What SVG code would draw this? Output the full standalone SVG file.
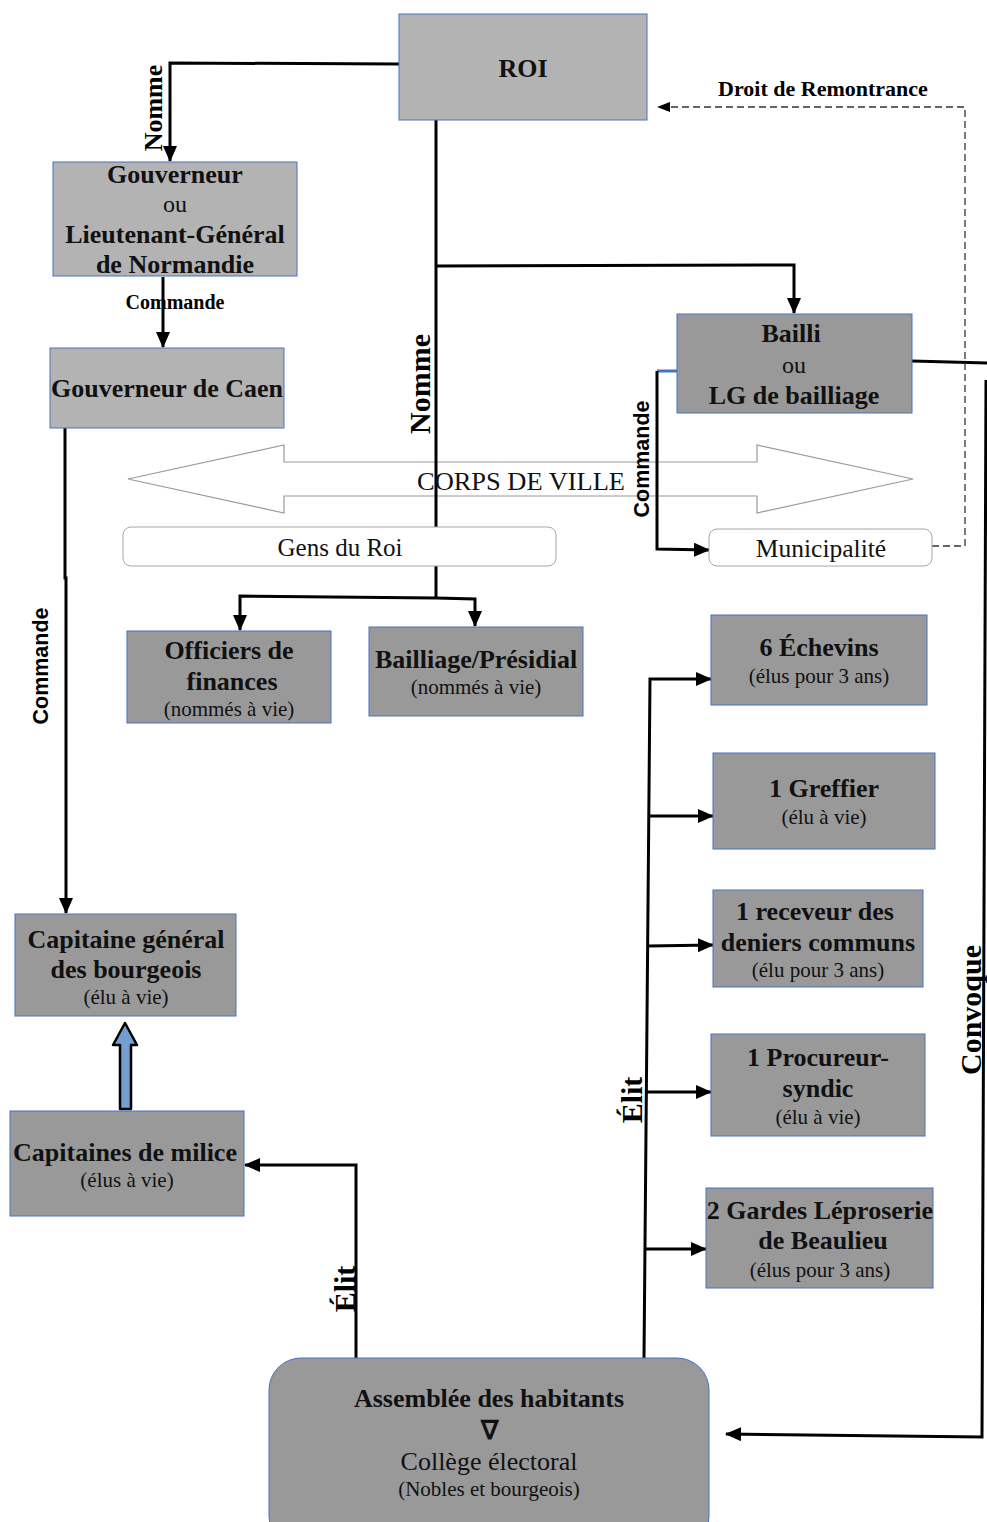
<svg xmlns="http://www.w3.org/2000/svg" width="987" height="1522" viewBox="0 0 987 1522">
<defs>
<style>
.n1{fill:#b3b3b3;stroke:#4472c4;stroke-width:1}
.n2{fill:#999999;stroke:#4472c4;stroke-width:1}
.w{fill:#ffffff;stroke:#a6a6a6;stroke-width:1}
.t{font-family:"Liberation Serif",serif;fill:#111;text-anchor:middle}
.b{font-weight:bold;font-size:26px}
.r{font-size:24px}
.s{font-size:21px}
.ln{fill:none;stroke:#000;stroke-width:3}
.dl{fill:none;stroke:#333;stroke-width:1.3;stroke-dasharray:7,4}
.lb{font-family:"Liberation Serif",serif;font-weight:bold;fill:#000;text-anchor:middle}
.ls{font-family:"Liberation Sans",sans-serif;font-weight:bold;fill:#000;text-anchor:middle}
</style>
<marker id="arb" markerWidth="16" markerHeight="14" refX="15" refY="7" orient="auto" markerUnits="userSpaceOnUse" viewBox="0 0 16 14"><path d="M0,0 L16,7 L0,14 Z" fill="#000"/></marker>
</defs>
<rect width="987" height="1522" fill="#ffffff"/>

<g id="corps">
<path d="M128,479 L284,445 L284,462 L757,462 L757,445 L913,479 L757,513 L757,496 L284,496 L284,513 Z" fill="#ffffff" stroke="#9a9a9a" stroke-width="1.2"/>
</g>

<g id="connectors">
<path class="ln" d="M399,64 L170,63 L170,161" marker-end="url(#arb)"/>
<path class="ln" d="M163,277 L163,347" marker-end="url(#arb)"/>
<path class="ln" d="M436,120 L436,598"/>
<path class="ln" d="M436,266 L794,265 L794,313" marker-end="url(#arb)"/>
<path class="ln" d="M436,598 L240,596 L240,630" marker-end="url(#arb)"/>
<path class="ln" d="M436,598 L475,599 L475,626" marker-end="url(#arb)"/>
<path class="ln" d="M65,428 L65,578 L66,578 L66,913" marker-end="url(#arb)"/>
<path d="M677,371 L657,371" stroke="#4472c4" stroke-width="3" fill="none"/>
<path class="ln" d="M657,371 L657,549 L709,550" marker-end="url(#arb)"/>
<path class="ln" d="M912,361 L987,363"/>
<path class="ln" d="M986,380 L982,1437 L726,1434" marker-end="url(#arb)"/>
<path class="dl" d="M932,546 L965,546 L965,107 L668,107"/>
<path d="M670,102 L657,107 L670,112 Z" fill="#000"/>
<path class="ln" d="M356,1358 L356,1165 L245,1165" marker-end="url(#arb)"/>
<path class="ln" d="M644,1358 L650,679 L711,679" marker-end="url(#arb)"/>
<path class="ln" d="M649,816 L713,816" marker-end="url(#arb)"/>
<path class="ln" d="M648,946 L713,945" marker-end="url(#arb)"/>
<path class="ln" d="M647,1092 L711,1092" marker-end="url(#arb)"/>
<path class="ln" d="M645,1249 L706,1249" marker-end="url(#arb)"/>
<path d="M120,1109 L120,1045 L113,1045 L125,1023 L137,1045 L131,1045 L131,1109 Z" fill="#729fcf" stroke="#000" stroke-width="2.5" stroke-linejoin="round"/>
<text class="lb" font-size="26" transform="translate(162,108) rotate(-90)">Nomme</text>
<text class="lb" font-size="20" x="175" y="309">Commande</text>
<text class="lb" font-size="30" transform="translate(430,384) rotate(-90)">Nomme</text>
<text class="ls" font-size="21.5" transform="translate(48,666) rotate(-90)">Commande</text>
<text class="ls" font-size="21.5" transform="translate(649,459) rotate(-90)">Commande</text>
<text class="lb" font-size="30" transform="translate(981,1010) rotate(-90)">Convoque</text>
<text class="lb" font-size="22" x="823" y="96">Droit de Remontrance</text>
<text class="lb" font-size="30" transform="translate(642,1100) rotate(-90)">Élit</text>
<text class="lb" font-size="30" transform="translate(355,1289) rotate(-90)">Élit</text>
</g>

<g id="corps-label">
<text class="t" font-size="26" x="521" y="490" textLength="208" lengthAdjust="spacingAndGlyphs">CORPS DE VILLE</text>
</g>

<g id="roi">
<rect class="n1" x="399" y="14" width="248" height="106"/>
<text class="t b" x="523" y="77">ROI</text>
</g>

<g id="gouverneur">
<rect class="n1" x="53" y="162" width="244" height="114"/>
<text class="t b" font-size="25" x="175" y="183">Gouverneur</text>
<text class="t r" x="175" y="212">ou</text>
<text class="t b" font-size="25" x="175" y="243">Lieutenant-Général</text>
<text class="t b" font-size="25" x="175" y="273">de Normandie</text>
</g>

<g id="caen">
<rect class="n1" x="50" y="348" width="234" height="80"/>
<text class="t b" font-size="24.5" x="167" y="397">Gouverneur de Caen</text>
</g>

<g id="bailli">
<rect class="n2" x="677" y="314" width="235" height="99"/>
<text class="t b" x="791" y="342">Bailli</text>
<text class="t r" x="794" y="373">ou</text>
<text class="t b" x="794" y="404">LG de bailliage</text>
</g>

<g id="gens-du-roi">
<rect class="w" x="123" y="527" width="433" height="39" rx="8"/>
<text class="t" font-size="25" x="340" y="556">Gens du Roi</text>
</g>

<g id="municipalite">
<rect class="w" x="709" y="529" width="223" height="37" rx="8"/>
<text class="t" font-size="25.5" x="821" y="557">Municipalité</text>
</g>

<g id="officiers">
<rect class="n2" x="127" y="631" width="204" height="92"/>
<text class="t b" x="229" y="659">Officiers de</text>
<text class="t b" x="232" y="690">finances</text>
<text class="t s" x="229" y="716">(nommés à vie)</text>
</g>

<g id="bailliage">
<rect class="n2" x="369" y="627" width="214" height="89"/>
<text class="t b" font-size="25.5" x="476" y="668">Bailliage/Présidial</text>
<text class="t s" x="476" y="694">(nommés à vie)</text>
</g>

<g id="echevins">
<rect class="n2" x="711" y="615" width="216" height="90"/>
<text class="t b" x="819" y="656">6 Échevins</text>
<text class="t s" x="819" y="683">(élus pour 3 ans)</text>
</g>

<g id="greffier">
<rect class="n2" x="713" y="753" width="222" height="96"/>
<text class="t b" x="824" y="797">1 Greffier</text>
<text class="t s" x="824" y="824">(élu à vie)</text>
</g>

<g id="receveur">
<rect class="n2" x="713" y="890" width="210" height="97"/>
<text class="t b" x="815" y="920">1 receveur des</text>
<text class="t b" x="818" y="951">deniers communs</text>
<text class="t s" x="818" y="977">(élu pour 3 ans)</text>
</g>

<g id="procureur">
<rect class="n2" x="711" y="1034" width="214" height="102"/>
<text class="t b" x="818" y="1066">1 Procureur-</text>
<text class="t b" x="818" y="1097">syndic</text>
<text class="t s" x="818" y="1124">(élu à vie)</text>
</g>

<g id="gardes">
<rect class="n2" x="706" y="1188" width="227" height="100"/>
<text class="t b" font-size="25.5" x="820" y="1219">2 Gardes Léproserie</text>
<text class="t b" x="823" y="1249">de Beaulieu</text>
<text class="t s" x="820" y="1277">(élus pour 3 ans)</text>
</g>

<g id="capitaine-general">
<rect class="n2" x="15" y="914" width="221" height="102"/>
<text class="t b" x="126" y="948">Capitaine général</text>
<text class="t b" x="126" y="978">des bourgeois</text>
<text class="t s" x="126" y="1004">(élu à vie)</text>
</g>

<g id="capitaines-milice">
<rect class="n2" x="10" y="1111" width="234" height="105"/>
<text class="t b" font-size="25.5" x="125" y="1161">Capitaines de milice</text>
<text class="t s" x="127" y="1187">(élus à vie)</text>
</g>

<g id="assemblee">
<rect class="n2" x="269" y="1358" width="440" height="190" rx="32"/>
<text class="t b" x="489" y="1407">Assemblée des habitants</text>
<text class="t b" font-size="24" x="489" y="1439">∇</text>
<text class="t" font-size="26" x="489" y="1470">Collège électoral</text>
<text class="t s" x="489" y="1496">(Nobles et bourgeois)</text>
</g>
</svg>
